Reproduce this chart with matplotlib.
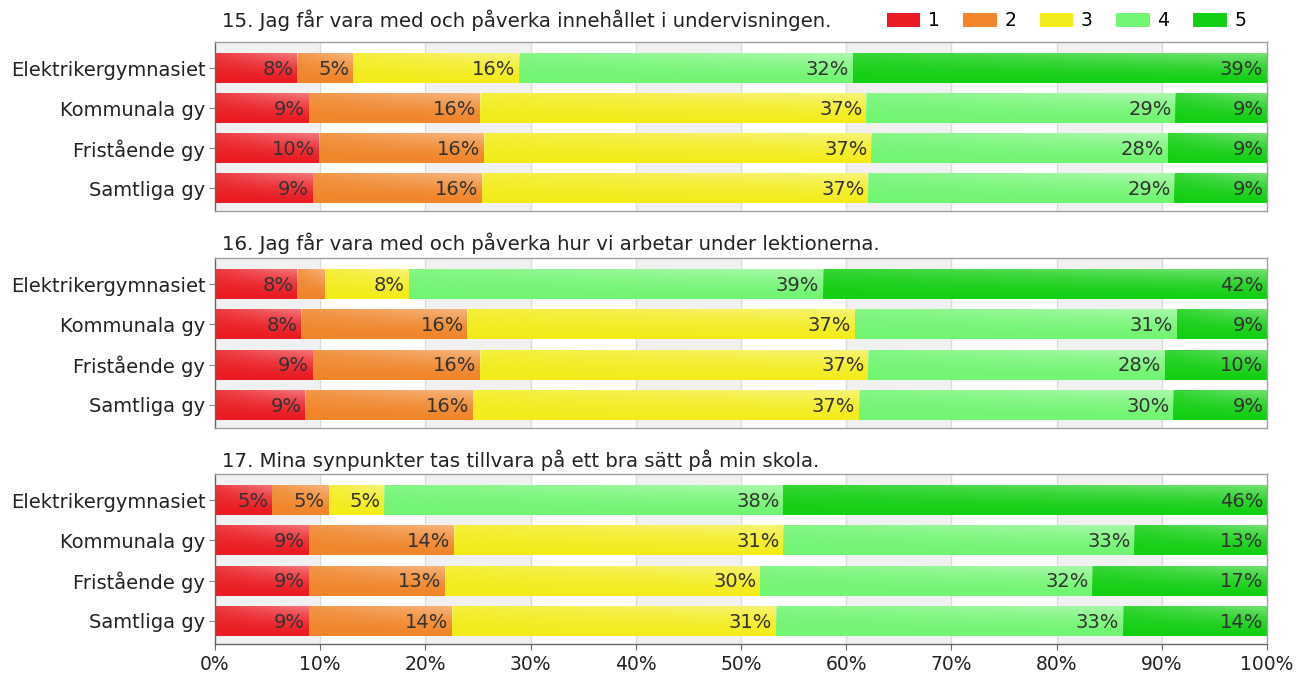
import numpy as np
import matplotlib
matplotlib.use("Agg")
import matplotlib.pyplot as plt
from matplotlib.patches import Patch

# svar 1-5 i procent, per fraga och skolgrupp
skolor = ["Elektrikergymnasiet", "Kommunala gy", "Fristående gy", "Samtliga gy"]
svar = ["1", "2", "3", "4", "5"]
farger = ["#ea1b22", "#f0852a", "#f3ec1c", "#72f572", "#14cf14"]

fragor = [
    "15. Jag får vara med och påverka innehållet i undervisningen.",
    "16. Jag får vara med och påverka hur vi arbetar under lektionerna.",
    "17. Mina synpunkter tas tillvara på ett bra sätt på min skola.",
]

# rader = skolor, kolumner = svar 1..5
f15 = [[7.8, 5.3, 15.8, 31.7, 39.4],
       [8.9, 16.3, 36.7, 29.4, 8.7],
       [9.9, 15.7, 36.8, 28.2, 9.4],
       [9.3, 16.1, 36.7, 29.1, 8.8]]
f16 = [[7.8, 2.7, 7.9, 39.4, 42.2],
       [8.2, 15.8, 36.8, 30.6, 8.6],
       [9.3, 15.9, 36.9, 28.2, 9.7],
       [8.6, 15.9, 36.7, 29.9, 8.9]]
f17 = [[5.4, 5.4, 5.3, 37.9, 46.0],
       [8.9, 13.8, 31.3, 33.4, 12.6],
       [8.9, 13.0, 29.9, 31.6, 16.6],
       [8.9, 13.6, 30.8, 33.0, 13.7]]
data = [f15, f16, f17]

# vit glans: starkast upptill och mot högerkanten
vv, uu = np.mgrid[0:1:24j, 0:1:24j]
glans = np.ones((24, 24, 4))
glans[..., 3] = 0.42 * (1 - vv) ** 1.6 * (0.35 + 0.65 * uu)

fig = plt.figure(figsize=(12.96, 6.74), dpi=100)
fig.patch.set_facecolor("white")

W, H = 1296, 674
paneler = [(42, 211), (258, 428), (474, 644)]
titel_y = [20, 243, 460]

for p, (topp, botten) in enumerate(paneler):
    ax = fig.add_axes([215 / W, 1 - botten / H, 1052 / W, (botten - topp) / H])
    varden = np.array(data[p])
    y = np.arange(len(skolor))

    # grå band var tionde procent
    for x0 in range(0, 100, 20):
        ax.axvspan(x0, x0 + 10, color="#f1f1f1", zorder=0, lw=0)
    for x0 in range(10, 100, 10):
        ax.axvline(x0, color="#dcdcdc", lw=1, zorder=0.5)

    vanster = np.zeros(len(skolor))
    for k in range(len(svar)):
        staplar = ax.barh(y, varden[:, k], left=vanster, height=0.75,
                          color=farger[k], edgecolor="none", zorder=2)
        for i, st in enumerate(staplar):
            x0, y0 = st.get_x(), st.get_y()
            w, h = st.get_width(), st.get_height()
            im = ax.imshow(glans, extent=(x0, x0 + w, y0 + h, y0), aspect="auto",
                           interpolation="bilinear", zorder=2.5)
            im.set_clip_path(st)
            v = varden[i, k]
            if v >= 4:
                ax.text(vanster[i] + v - 0.35, y[i] + 0.03, "%.0f%%" % v,
                        ha="right", va="center", fontsize=14, color="#333333",
                        zorder=3)
        vanster += varden[:, k]

    ax.set_xlim(0, 100)
    ax.set_ylim(3.575, -0.65)
    ax.set_yticks(y)
    ax.set_yticklabels(skolor, fontsize=14, color="#222222")
    ax.tick_params(axis="y", length=4, color="#888888", pad=3)
    ax.set_xticks(np.arange(0, 101, 10))
    if p == 2:
        ax.set_xticklabels(["%d%%" % v for v in range(0, 101, 10)],
                           fontsize=13.5, color="#222222")
        ax.tick_params(axis="x", length=4, color="#666666", pad=4)
    else:
        ax.tick_params(axis="x", length=0, labelbottom=False)
    for s in ax.spines.values():
        s.set_color("#a0a0a0")
        s.set_linewidth(1)
    if p == 2:
        ax.spines["bottom"].set_color("#666666")
    ax.spines["left"].set_color("#666666")

    fig.text(222 / W, 1 - titel_y[p] / H, fragor[p], fontsize=14.2,
             color="#222222", ha="left", va="center")

handtag = [Patch(facecolor=farger[k], edgecolor="none") for k in range(len(svar))]
fig.legend(handtag, svar, loc="center right", bbox_to_anchor=(1246 / W, 1 - 21 / H),
           ncol=5, frameon=False, fontsize=13.5, handlelength=1.8, handleheight=0.85,
           columnspacing=1.25, handletextpad=0.4, borderaxespad=0, borderpad=0)

fig.savefig("out.png", dpi=100, facecolor="white")
